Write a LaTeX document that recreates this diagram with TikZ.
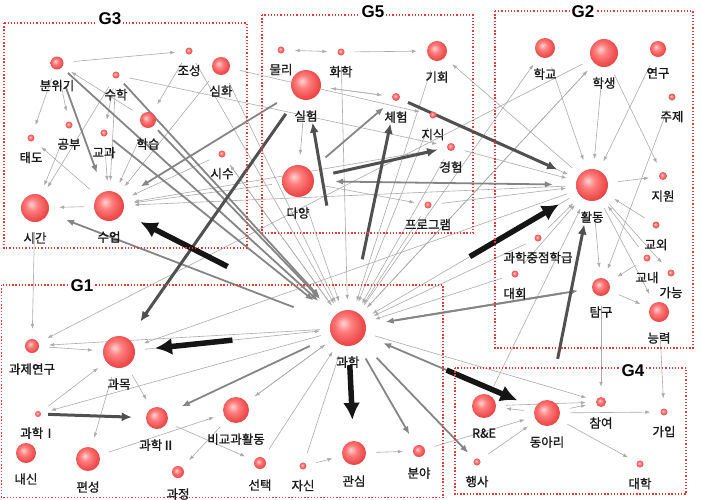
\documentclass[tikz,border=0pt]{standalone}
\usepackage{fontspec}
\usetikzlibrary{arrows.meta}
\newfontfamily\kfont[FakeBold=1.2]{Noto Sans CJK KR}
\newfontfamily\gfont{Liberation Sans}
\definecolor{kwlight}{HTML}{FFD4D4}
\definecolor{kwmid}{HTML}{FF7C7C}
\definecolor{kwedge}{HTML}{EC4A4A}
\definecolor{boxred}{HTML}{E23A3A}
\definecolor{txt}{HTML}{1A1A1A}
\definecolor{lnkgray}{HTML}{ABABAB}
\definecolor{lnkmidgray}{HTML}{858585}
\definecolor{lnkdark}{HTML}{505050}
\definecolor{lnkblack}{HTML}{151515}
\pgfdeclareradialshading{kwball}{\pgfqpoint{-7bp}{7bp}}{color(0bp)=(kwlight); color(11bp)=(kwmid); color(25bp)=(kwedge); color(50bp)=(kwedge)}
\pgfdeclarelayer{edges}
\pgfsetlayers{edges,main}

\begin{document}
\begin{tikzpicture}[x=1pt,y=-1pt,
  font=\kfont\fontsize{12.5}{14}\selectfont,text=txt,
  kw/.style={circle,inner sep=0pt,shading=kwball,minimum size=#1},
  every label/.style={inner sep=0pt},label distance=10pt,
  grp/.style={draw=boxred,line width=1.2pt,dash pattern=on 1.3pt off 1.9pt},
  grplbl/.style={font=\gfont\bfseries\fontsize{17}{20}\selectfont,text=black,fill=white,inner sep=2pt},
  lnk/.style={draw=lnkgray,line width=.6pt,-{Latex[length=5pt,width=3.6pt]},shorten <=10pt,shorten >=10pt},
  lnkmid/.style={draw=lnkmidgray,line width=1.8pt,-{Latex[length=8pt,width=6.5pt]},shorten <=16pt,shorten >=14pt},
  lnkhv/.style={draw=lnkdark,line width=3pt,-{Latex[length=10pt,width=9pt]}},
  lnkbk/.style={draw=lnkblack,line width=5.5pt,-{Latex[length=17pt,width=17pt]}}]
  \useasboundingbox (0,0) rectangle (701,499);

  % groups
  \draw[grp] (4,23) rectangle (247,248);
  \draw[grp] (262,15) rectangle (473,233);
  \draw[grp] (495,11) rectangle (693,348);
  \draw[grp] (1.5,285) rectangle (443,497.5);
  \draw[grp] (455,368) rectangle (686,494);
  \node[grplbl] (g3) at (110,19) {G3};
  \node[grplbl] (g5) at (373,12) {G5};
  \node[grplbl] (g2) at (583,12) {G2};
  \node[grplbl] (g1) at (82,286) {G1};
  \node[grplbl] (g4) at (633,371) {G4};

  % keywords
  \foreach \n/\x/\y/\d/\lab in {
    bunwigi/57/63/13/분위기, joseong/189/51/7/조성, simhwa/221/66/18/심화,
    suhak/116/75/7/수학, hakseup/148/120/16/학습, gongbu/69/125/7/공부,
    gyogwa/104/133/7/교과, taedo/31/138/7/태도, sisu/222/154/7/시수,
    sigan/35/208/28/시간, sueop/109/206/30/수업,
    mulli/281/50/7/물리, hwahak/341/52/7/화학, gihoe/437/51/20/기회,
    silheom/306/85/30/실험, cheheom/396/97/8/체험, jisik/433/115/7/지식,
    gyeongheom/451/147/8/경험, dayang/298/181/32/다양, program/428/205/7/프로그램,
    hakgyo/545/48/20/학교, haksaeng/604/53/28/학생, yeongu/658/49/16/연구,
    juje/672/97/7/주제, hwaldong/592/185/32/활동, jiwon/663/176/8/지원,
    gyooe/656/225/7/교외, jungjeom/538/238/7/과학중점학급, daehoe/515/274/7/대회,
    gyonae/647/258/7/교내, ganeung/671/273/7/가능, tamgu/601/287/18/탐구,
    neungryeok/659/312/20/능력,
    gwahak/348/328/36/과학, gwaje/32/346/14/과제연구, gwamok/119/352/32/과목,
    sci1/38/414/6/과학Ⅰ, sci2/157/418/22/과학Ⅱ, bigyo/236/410/26/비교과활동,
    naesin/26/453/20/내신, pyeonseong/88/459/24/편성, gwajeong/178/472/12/과정,
    seontaek/260/463/12/선택, jasin/303/466/7/자신, gwansim/354/453/24/관심,
    bunya/419/451/12/분야,
    rne/484/406/24/R\&E, dongari/547/413/26/동아리, chamyeo/601/402/10/참여,
    gaip/664/412/7/가입, haengsa/477/462/7/행사, daehak/640/464/7/대학}
    \node[kw=\d pt,label=below:\lab] (\n) at (\x,\y) {};

  \begin{pgfonlayer}{edges}
    % weak ties
    \foreach \a/\b in {bunwigi/joseong, bunwigi/taedo, bunwigi/gongbu, suhak/gyogwa,
      suhak/sueop, suhak/sigan, gongbu/sigan, gyogwa/sueop, hakseup/sueop,
      sueop/sigan, sueop/taedo, hakseup/bunwigi, joseong/hakseup, suhak/gyeongheom,
      simhwa/sueop, sisu/sueop, gwahak/sisu, dayang/sueop, gyeongheom/sueop,
      hwaldong/sueop, simhwa/gwahak, joseong/gwahak, sisu/gwahak, simhwa/jisik,
      hwahak/gihoe, silheom/cheheom, cheheom/silheom, silheom/dayang, dayang/program,
      jisik/hwaldong, gyeongheom/hwaldong, program/hwaldong, hwaldong/gihoe,
      dayang/gwahak, gyeongheom/gwahak, jisik/gwahak, program/gwahak, gihoe/gwahak,
      hwahak/gwahak,
      haksaeng/hwaldong, yeongu/hwaldong, haksaeng/jiwon, hakgyo/hwaldong,
      gwahak/haksaeng, gwahak/hakgyo, hwaldong/jiwon, gyooe/hwaldong, gyonae/hwaldong,
      hwaldong/tamgu, juje/tamgu, hwaldong/neungryeok, hwaldong/ganeung,
      tamgu/neungryeok, gyonae/tamgu, jungjeom/hwaldong, daehoe/hwaldong,
      rne/hwaldong, hwaldong/gwahak, haksaeng/gwahak, daehoe/gwahak,
      jungjeom/gwahak, hwaldong/gwamok, haksaeng/gwaje,
      dongari/rne, haengsa/dongari, dongari/chamyeo, rne/chamyeo, dongari/gaip,
      dongari/daehak, tamgu/chamyeo, neungryeok/gaip, gwansim/bunya, bunya/dongari,
      gwahak/chamyeo,
      sigan/gwaje, gwaje/gwamok, gwahak/gwaje, sci1/gwamok, gwamok/pyeonseong,
      gwamok/sci2, gwahak/sci1, pyeonseong/bigyo, bigyo/gwajeong, sci2/seontaek,
      bigyo/gwahak, gwahak/bigyo, jasin/gwansim, jasin/gwahak, seontaek/gwahak,
      gwamok/gwahak}
      \draw[lnk] (\a) -- (\b);
    \draw[lnk,{Latex[length=5pt,width=3.6pt]}-{Latex[length=5pt,width=3.6pt]}] (mulli) -- (hwahak);

    % medium ties
    \foreach \a/\b/\s/\t in {bunwigi/gwahak/8/22, suhak/gwahak/8/24, hakseup/gwahak/6/22,
      gyogwa/gwahak/8/26, bunwigi/sueop/19/20, gwahak/sigan/40/19, silheom/sueop/19/22,
      dayang/cheheom/20/12, gwahak/tamgu/30/14, tamgu/gwahak/30/20, dongari/gwahak/90/20,
      gwahak/haengsa/23/9, gwahak/bunya/17/13, gwahak/sci2/24/16}
      \draw[lnkmid,shorten <=\s pt,shorten >=\t pt] (\a) -- (\b);
    \draw[lnkmid,{Latex[length=8pt,width=6.5pt]}-{Latex[length=8pt,width=6.5pt]},
      shorten <=21pt,shorten >=23pt] (dayang) -- (hwaldong);

    % strong ties
    \foreach \a/\b/\s/\t in {sci1/sci2/7/14, silheom/gwamok/20/21, cheheom/hwaldong/9/22,
      dayang/gyeongheom/20/10, gwahak/cheheom/52/23, gwahak/silheom/106/23,
      dongari/hwaldong/42/24}
      \draw[lnkhv,shorten <=\s pt,shorten >=\t pt] (\a) -- (\b);

    % strongest ties
    \foreach \b/\s/\t in {sueop/117/20, gwamok/98/20, gwansim/19/21, hwaldong/123/22,
      dongari/89/19}
      \draw[lnkbk,shorten <=\s pt,shorten >=\t pt] (gwahak) -- (\b);
  \end{pgfonlayer}
\end{tikzpicture}
\end{document}
